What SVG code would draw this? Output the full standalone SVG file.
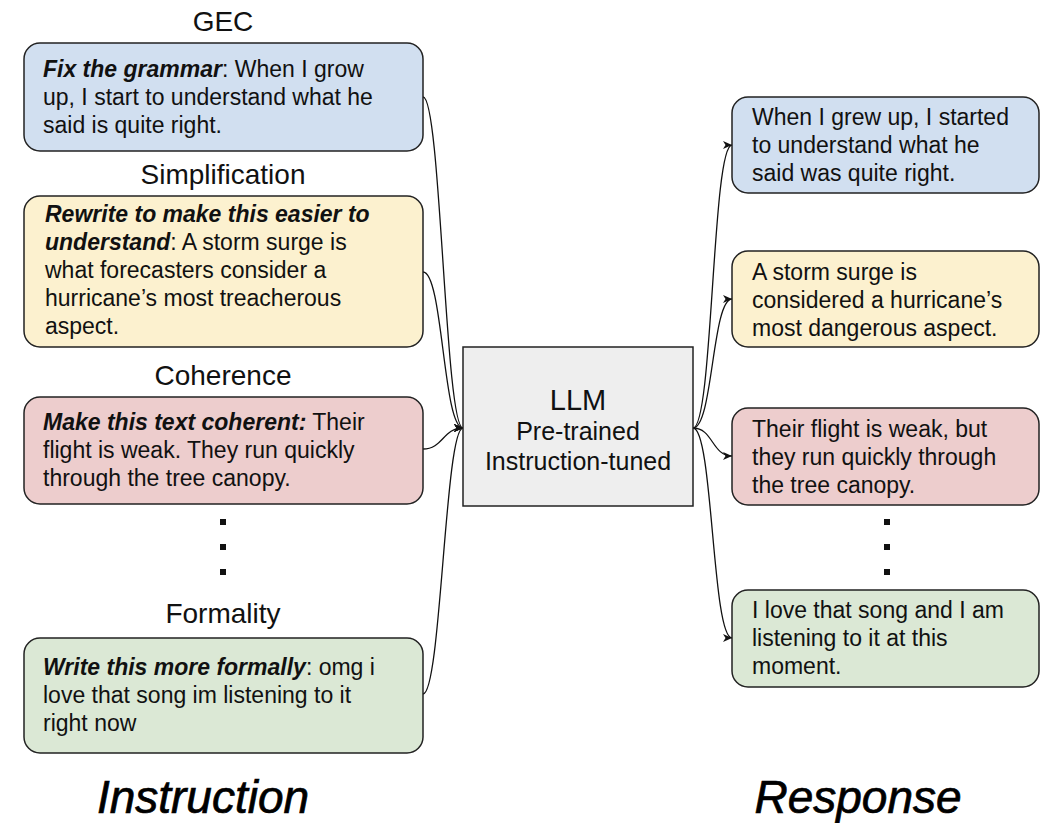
<svg xmlns="http://www.w3.org/2000/svg" width="1046" height="823" viewBox="0 0 1046 823">
<defs>
<style>
.box{stroke:#222;stroke-width:1.5}
.blue{fill:#d1dff0}.yellow{fill:#fcf1cf}.red{fill:#edcdcd}.green{fill:#dbe8d5}
.t{font-family:"Liberation Sans",Arial,sans-serif;font-size:23px;fill:#111}
.b{font-weight:bold;font-style:italic}
.title{font-family:"Liberation Sans",Arial,sans-serif;font-size:28px;fill:#111;text-anchor:middle}
.llm{font-family:"Liberation Sans",Arial,sans-serif;fill:#111;text-anchor:middle}
.big{font-family:"Liberation Sans",Arial,sans-serif;font-size:46px;font-style:italic;fill:#000;stroke:#000;stroke-width:0.7;text-anchor:middle}
.c{fill:none;stroke:#111;stroke-width:1.3;marker-end:url(#arr)}
.dot{fill:#111}
</style>
<marker id="arr" markerWidth="10" markerHeight="8" refX="9" refY="4" orient="auto" markerUnits="userSpaceOnUse">
<path d="M0,0 L9,4 L0,8 L2.5,4 Z" fill="#111"/>
</marker>
</defs>
<rect width="1046" height="823" fill="#fff"/>

<g id="connectors">
<path class="c" d="M423,97 C441,97 445,428 463,428"/>
<path class="c" d="M423,272 C443,272 443,428 463,428"/>
<path class="c" d="M423,449 C443,449 443,428 463,428"/>
<path class="c" d="M423,694 C441,694 445,428 463,428"/>
<path class="c" d="M693,428 C713,428 712,145 732,145"/>
<path class="c" d="M693,428 C713,428 712,299 732,299"/>
<path class="c" d="M693,428 C713,428 712,456 732,456"/>
<path class="c" d="M693,428 C713,428 712,638 732,638"/>
</g>

<g id="gec">
<text class="title" x="223" y="31">GEC</text>
<rect class="box blue" x="24" y="43" width="399" height="108" rx="16"/>
<text class="t" x="43" y="77"><tspan class="b">Fix the grammar</tspan>: When I grow</text>
<text class="t" x="43" y="105">up, I start to understand what he</text>
<text class="t" x="43" y="133">said is quite right.</text>
</g>

<g id="simplification">
<text class="title" x="223" y="184">Simplification</text>
<rect class="box yellow" x="24" y="196" width="399" height="151" rx="16"/>
<text class="t" x="45" y="222"><tspan class="b">Rewrite to make this easier to</tspan></text>
<text class="t" x="45" y="250"><tspan class="b">understand</tspan>: A storm surge is</text>
<text class="t" x="45" y="278">what forecasters consider a</text>
<text class="t" x="45" y="306">hurricane’s most treacherous</text>
<text class="t" x="45" y="334">aspect.</text>
</g>

<g id="coherence">
<text class="title" x="223" y="385">Coherence</text>
<rect class="box red" x="24" y="397" width="399" height="107" rx="16"/>
<text class="t" x="43" y="430"><tspan class="b">Make this text coherent:</tspan> Their</text>
<text class="t" x="43" y="458">flight is weak. They run quickly</text>
<text class="t" x="43" y="486">through the tree canopy.</text>
</g>

<g id="dots-left">
<rect class="dot" x="220" y="519" width="6" height="6"/>
<rect class="dot" x="220" y="544" width="6" height="6"/>
<rect class="dot" x="220" y="569" width="6" height="6"/>
</g>

<g id="formality">
<text class="title" x="223" y="623">Formality</text>
<rect class="box green" x="24" y="638" width="399" height="115" rx="16"/>
<text class="t" x="43" y="675"><tspan class="b">Write this more formally</tspan>: omg i</text>
<text class="t" x="43" y="703">love that song im listening to it</text>
<text class="t" x="43" y="731">right now</text>
</g>

<g id="llm">
<rect x="463" y="347" width="230" height="159" fill="#eeeeee" stroke="#222" stroke-width="1.5"/>
<text class="llm" x="578" y="410" font-size="29">LLM</text>
<text class="llm" x="578" y="440" font-size="25">Pre-trained</text>
<text class="llm" x="578" y="470" font-size="25">Instruction-tuned</text>
</g>

<g id="resp-gec">
<rect class="box blue" x="732" y="97" width="307" height="96" rx="16"/>
<text class="t" x="752" y="125">When I grew up, I started</text>
<text class="t" x="752" y="153">to understand what he</text>
<text class="t" x="752" y="181">said was quite right.</text>
</g>

<g id="resp-simplification">
<rect class="box yellow" x="732" y="251" width="307" height="96" rx="16"/>
<text class="t" x="752" y="280">A storm surge is</text>
<text class="t" x="752" y="308">considered a hurricane’s</text>
<text class="t" x="752" y="336">most dangerous aspect.</text>
</g>

<g id="resp-coherence">
<rect class="box red" x="732" y="408" width="307" height="97" rx="16"/>
<text class="t" x="752" y="437">Their flight is weak, but</text>
<text class="t" x="752" y="465">they run quickly through</text>
<text class="t" x="752" y="493">the tree canopy.</text>
</g>

<g id="dots-right">
<rect class="dot" x="884" y="519" width="6" height="6"/>
<rect class="dot" x="884" y="544" width="6" height="6"/>
<rect class="dot" x="884" y="569" width="6" height="6"/>
</g>

<g id="resp-formality">
<rect class="box green" x="732" y="590" width="307" height="97" rx="16"/>
<text class="t" x="752" y="618">I love that song and I am</text>
<text class="t" x="752" y="646">listening to it at this</text>
<text class="t" x="752" y="674">moment.</text>
</g>

<g id="labels">
<text class="big" x="203" y="813">Instruction</text>
<text class="big" x="858" y="813">Response</text>
</g>
</svg>
